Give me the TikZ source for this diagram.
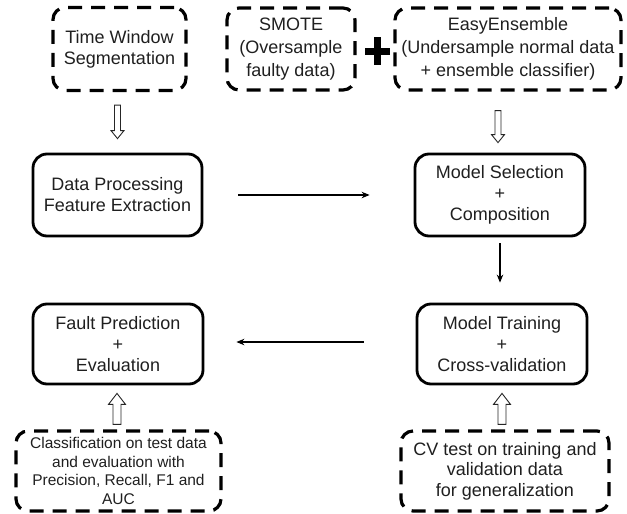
\documentclass[tikz,border=0pt]{standalone}
\usepackage{fontspec}
\setmainfont{Liberation Sans}
\usetikzlibrary{arrows.meta,calc}
\begin{document}
\begin{tikzpicture}[x=1pt,y=-1pt,
  txt/.style={text=black!88, align=center, inner sep=0pt, font=\fontsize{18}{21}\selectfont},
  solidbox/.style={txt, draw=black, line width=2.8pt, rounded corners=14pt},
  dashbox/.style={txt, draw=black, line width=3.2pt, dash pattern=on 14pt off 9pt, rounded corners=12pt},
  conn/.style={draw=black, line width=1.2pt, -{Stealth[length=8pt,width=6.5pt]}},
  hollow/.style={draw=black!85, line width=0.9pt, fill=white, line join=miter}]
\useasboundingbox (0,0) rectangle (627,514);
\clip (0,0) rectangle (627,514);

% top row
\node[dashbox, font=\fontsize{18}{21}\selectfont, minimum width=133pt, minimum height=83pt] (tw) at (119.5,49) {Time Window\\Segmentation};
\node[dashbox, font=\fontsize{18}{23}\selectfont, minimum width=128pt, minimum height=82pt] (sm) at (291,49) {SMOTE\\(Oversample\\faulty data)};
\node[dashbox, font=\fontsize{18}{23}\selectfont, minimum width=226pt, minimum height=82pt] (ee) at (508,49) {EasyEnsemble\\(Undersample normal data\\+ ensemble classifier)};
\draw[line width=7pt] (365,51) -- (390,51);
\draw[line width=7pt] (377.5,37) -- (377.5,65);

% middle row
\node[solidbox, minimum width=169pt, minimum height=82pt] (dp) at (117.5,195) {Data Processing\\Feature Extraction};
\node[solidbox, minimum width=170pt, minimum height=82pt] (ms) at (500,195) {Model Selection\\+\\Composition};

% bottom row
\node[solidbox, minimum width=170pt, minimum height=80pt] (fp) at (118,344) {Fault Prediction\\+\\Evaluation};
\node[solidbox, minimum width=170pt, minimum height=80pt] (mt) at (502,344) {Model Training\\+\\Cross-validation};

% bottom dashed boxes
\node[dashbox, font=\fontsize{15.5}{18.5}\selectfont, minimum width=205pt, minimum height=80pt] (bl) at (118.5,471) {Classification on test data\\and evaluation with\\Precision, Recall, F1 and\\AUC};
\node[dashbox, font=\fontsize{18}{20.5}\selectfont, minimum width=208pt, minimum height=80pt] (br) at (505,471) {CV test on training and\\validation data\\for generalization};

% thin connectors
\draw[conn, shorten <=35pt, shorten >=44pt] (dp.east) -- (ms.west);
\draw[conn, shorten <=6pt, shorten >=20pt] (ms.south) -- (ms.south |- mt.north);
\draw[conn, shorten <=52pt, shorten >=32pt] ($(mt.west)+(0,-2)$) -- ($(fp.east)+(0,-2)$);

% hollow arrows (down)
\draw[hollow] let \p1=($(tw.south)+(0,13)$), \p2=($(dp.north)+(0,-14)$) in
  (\x2-3pt,\y1) -- (\x2-3pt,\y2+8pt) -- (\x2-6.5pt,\y2+8pt) -- (\x2,\y2) -- (\x2+6.5pt,\y2+8pt) -- (\x2+3pt,\y2+8pt) -- (\x2+3pt,\y1) -- cycle;
\draw[hollow] let \p1=($(ee.south)+(0,19)$), \p2=($(ms.north)+(-2,-10)$) in
  (\x2-3pt,\y1) -- (\x2-3pt,\y2+8pt) -- (\x2-6.5pt,\y2+8pt) -- (\x2,\y2) -- (\x2+6.5pt,\y2+8pt) -- (\x2+3pt,\y2+8pt) -- (\x2+3pt,\y1) -- cycle;

% hollow arrows (up)
\draw[hollow] let \p1=($(bl.north)+(0,-5)$), \p2=($(fp.south)+(-1,8)$) in
  (\x2-4pt,\y1) -- (\x2-4pt,\y2-11pt) -- (\x2-8.5pt,\y2-11pt) -- (\x2,\y2) -- (\x2+8.5pt,\y2-11pt) -- (\x2+4pt,\y2-11pt) -- (\x2+4pt,\y1) -- cycle;
\draw[hollow] let \p1=($(br.north)+(0,-5)$), \p2=($(mt.south)+(0,8)$) in
  (\x2-4pt,\y1) -- (\x2-4pt,\y2-11pt) -- (\x2-8.5pt,\y2-11pt) -- (\x2,\y2) -- (\x2+8.5pt,\y2-11pt) -- (\x2+4pt,\y2-11pt) -- (\x2+4pt,\y1) -- cycle;
\end{tikzpicture}
\end{document}
